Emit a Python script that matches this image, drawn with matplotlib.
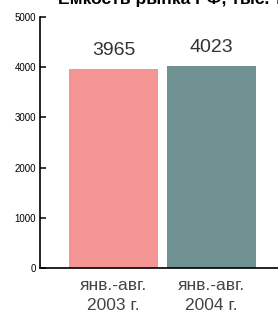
import matplotlib.pyplot as plt

# Chart data
periods = ['янв.-авг.\n2003 г.', 'янв.-авг.\n2004 г.']
values = [3965, 4023]
colors = ['#F59593', '#6F9191']

plt.rcParams['font.family'] = ['Liberation Sans', 'DejaVu Sans']

fig = plt.figure(figsize=(2.78, 3.13), dpi=100)
ax = fig.add_axes([40 / 278, 45 / 313, 238 / 278, 251 / 313])

x = range(len(values))
ax.bar(x, values, width=0.908, color=colors)

for xi, v in zip(x, values):
    ax.annotate(str(v), (xi, v), xytext=(0, 7), textcoords='offset points',
                ha='center', va='bottom', fontsize=14, color='#333333')

ax.set_xlim(-0.75, 1.679)
ax.set_ylim(0, 5000)
ax.set_yticks([0, 1000, 2000, 3000, 4000, 5000])
ax.set_xticks(list(x))
ax.set_xticklabels(periods, fontsize=12.5, color='#444444', linespacing=1.4)
ax.tick_params(axis='x', length=0, pad=7)
ax.tick_params(axis='y', direction='in', length=4, width=1.1, labelsize=7, pad=3)

for side in ['top', 'right']:
    ax.spines[side].set_visible(False)
for side in ['left', 'bottom']:
    ax.spines[side].set_linewidth(1.2)

fig.text(58 / 278, 1 - 4 / 313, 'Емкость рынка РФ, тыс. т', fontsize=12.6,
         fontweight='bold', ha='left', va='baseline')

fig.savefig('out.png', dpi=100)
